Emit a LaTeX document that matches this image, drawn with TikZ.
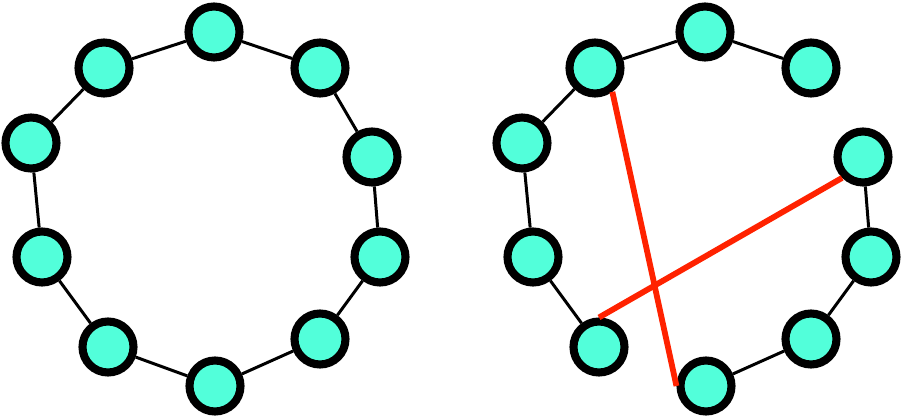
\documentclass[tikz,border=0pt]{standalone}
\usepackage{xcolor}
\usepackage{tikz}
\usetikzlibrary{arrows.meta, positioning}
\definecolor{aqua}{HTML}{52FFDA}
\definecolor{cutred}{HTML}{FF2200}

\begin{document}
\begin{tikzpicture}[
    vrchol/.style={circle, draw=black, fill=aqua, line width=4.6pt, minimum size=1.02cm, inner sep=0pt},
    hrana/.style={line width=1.7pt, black},
    nova/.style={line width=3.3pt, cutred}]
  \useasboundingbox (0,0) rectangle (18.04,8.38);
  % Uzly obou kruhů
  \foreach \i/\x/\y in {1/4.28/7.74, 2/6.40/7.02, 3/7.44/5.24, 4/7.60/3.24, 5/6.40/1.60,
                        6/4.30/0.66, 7/2.16/1.44, 8/0.84/3.24, 9/0.62/5.52, 10/2.08/7.02} {
    \node[vrchol] (l\i) at (\x,\y) {};
    \node[vrchol] (r\i) at (\x+9.82,\y) {};
  }
  % Levý kruh
  \foreach \a/\b in {1/2, 2/3, 3/4, 4/5, 5/6, 6/7, 7/8, 8/9, 9/10, 10/1}
    \draw[hrana] (l\a) -- (l\b);
  % Pravý kruh bez dvou hran
  \foreach \a/\b in {1/2, 3/4, 4/5, 5/6, 7/8, 8/9, 9/10, 10/1}
    \draw[hrana] (r\a) -- (r\b);
  % Přidané hrany
  \draw[nova] (r10.-54) -- (r6.180);
  \draw[nova] (r3.-135) -- (r7.90);
\end{tikzpicture}
\end{document}
